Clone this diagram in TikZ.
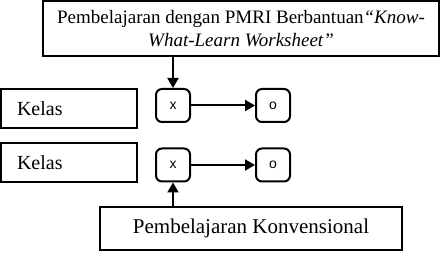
\documentclass[tikz,border=0pt]{standalone}
\usepackage{fontspec}
\setmainfont{Liberation Serif}
\newfontfamily\labelsans{Liberation Sans}
\usetikzlibrary{arrows.meta}
\begin{document}
\begin{tikzpicture}[x=1pt,y=1pt,
  frame/.style={draw, line width=2pt, inner sep=0pt},
  stage/.style={draw, line width=2pt, rounded corners=6pt, minimum width=34pt,
    minimum height=33pt, inner sep=0pt, font=\labelsans\fontsize{14}{14}\selectfont},
  flow/.style={line width=2pt, -{Triangle[length=10pt,width=11pt]}}]
\useasboundingbox (0,0) rectangle (443,-253);
% treatment description
\node[frame, minimum width=396pt, minimum height=55pt, align=center,
  font=\fontsize{19}{23}\selectfont] (treat) at (241,-28.5)
  {Pembelajaran dengan PMRI Berbantuan\textit{“Know-}\\\textit{What-Learn Worksheet”}};
% class labels
\node[frame, minimum height=39pt, text width=104pt, inner xsep=16pt, align=left,
  font=\fontsize{20}{24}\selectfont] (k1) at (69,-108.5) {Kelas};
\node[frame, minimum height=39pt, text width=104pt, inner xsep=16pt, align=left,
  font=\fontsize{20}{24}\selectfont] (k2) at (69,-162.5) {Kelas};
% treatment and observation stages
\node[stage] (x1) at (173,-105.5) {x};
\node[stage] (o1) at (273,-105.5) {o};
\node[stage] (x2) at (173,-165) {x};
\node[stage] (o2) at (273,-165) {o};
% control description
\node[frame, minimum width=302pt, minimum height=43pt,
  font=\fontsize{21}{25}\selectfont] (conv) at (251,-228.5) {Pembelajaran Konvensional};
% connectors
\draw[flow] (treat.south -| x1) -- (x1.north);
\draw[flow] (x1) -- (o1);
\draw[flow] (x2) -- (o2);
\draw[flow] (conv.north -| x2) -- (x2.south);
\end{tikzpicture}
\end{document}
